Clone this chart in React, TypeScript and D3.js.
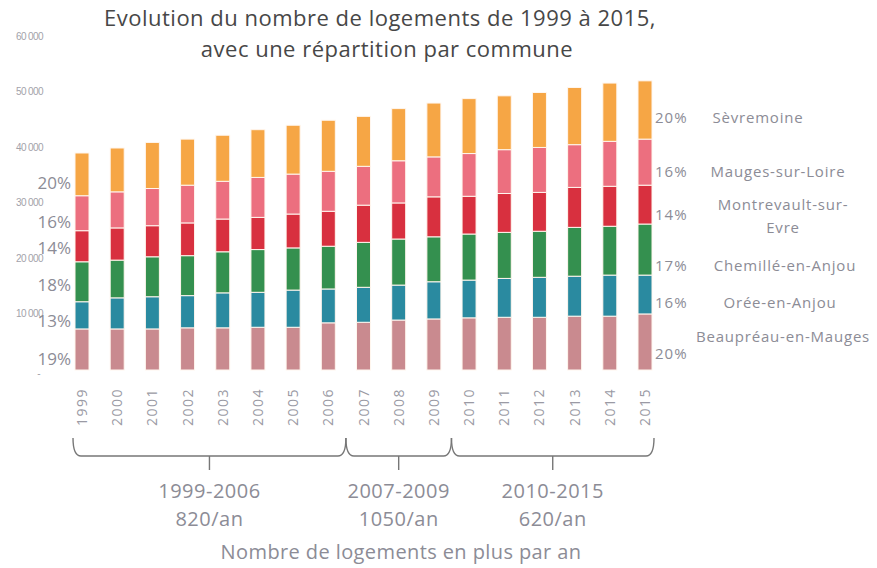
import React from 'react';
import * as d3 from 'd3';

const years = ['1999', '2000', '2001', '2002', '2003', '2004', '2005', '2006', '2007', '2008', '2009', '2010', '2011', '2012', '2013', '2014', '2015'];
const communes = ['Beaupréau-en-Mauges', 'Orée-en-Anjou', 'Chemillé-en-Anjou', 'Montrevault-sur-Evre', 'Mauges-sur-Loire', 'Sèvremoine'];

// logements par commune (bas -> haut de la pile)
const beaupreau = [7400, 7400, 7400, 7600, 7600, 7700, 7700, 8500, 8600, 9000, 9200, 9400, 9500, 9500, 9700, 9700, 10100];
const oree = [4900, 5600, 5800, 5800, 6300, 6300, 6700, 6100, 6300, 6300, 6700, 6800, 7000, 7200, 7200, 7400, 7000];
const chemille = [7200, 6800, 7200, 7200, 7400, 7700, 7600, 7700, 8100, 8300, 8100, 8300, 8300, 8300, 8800, 8800, 9200];
const montrevault = [5600, 5800, 5600, 5900, 5900, 5800, 6100, 6300, 6700, 6500, 7200, 6800, 7000, 7000, 7200, 7200, 7000];
const mauges = [6300, 6500, 6700, 6800, 6800, 7200, 7200, 7200, 7000, 7600, 7200, 7700, 7900, 8100, 7700, 8100, 8300];
const sevremoine = [7700, 7900, 8300, 8300, 8300, 8600, 8800, 9200, 9000, 9400, 9700, 9900, 9700, 9900, 10300, 10500, 10500];

const pct1999 = ['19%', '13%', '18%', '14%', '16%', '20%'];
const pct2015 = ['20%', '16%', '17%', '14%', '16%', '20%'];

const yTicks = [0, 10000, 20000, 30000, 40000, 50000, 60000];
const yTickLabels = ['-', '10 000', '20 000', '30 000', '40 000', '50 000', '60 000'];

const periods = [
  { from: '1999', to: '2006', label: '1999-2006', rate: '820/an' },
  { from: '2007', to: '2009', label: '2007-2009', rate: '1050/an' },
  { from: '2010', to: '2015', label: '2010-2015', rate: '620/an' },
];

const colors = ['#c98a8f', '#2a8aa0', '#34904f', '#d8303f', '#ec6f7f', '#f6a645'];
const labelGray = '#8c8c96';
const font = '"Open Sans", sans-serif';

const series = [beaupreau, oree, chemille, montrevault, mauges, sevremoine];

// petits décalages des étiquettes (px)
const leftNudge = [11, 7, 5, 3, 10, 10];
const rightNudge = [13, 9, 17, 11, 11, 9];
const nameX = [783, 780, 785, 783, 778, 758];

const App = () => {
  const W = 877, H = 568;
  const x = d3.scalePoint().domain(years).range([82, 645]);
  const y = d3.scaleLinear().domain([0, 60000]).range([370, 37]);
  const barW = 14;

  const rows = years.map((yr, i) => {
    const r: any = { year: yr };
    communes.forEach((c, k) => { r[c] = series[k][i]; });
    return r;
  });
  const stacked = d3.stack().keys(communes)(rows);

  const step = x.step();
  const braceY = 456, braceTop = 438;
  const edge = (yr: string, side: number) => {
    const i = years.indexOf(yr);
    if (side < 0) return i === 0 ? x(yr)! - 9 : x(yr)! - step / 2;
    return i === years.length - 1 ? x(yr)! + 9 : x(yr)! + step / 2;
  };

  const mid = (k: number, i: number) => (y(stacked[k][i][0]) + y(stacked[k][i][1])) / 2;
  const last = years.length - 1;

  return (
    <svg width={W} height={H} style={{ position: 'absolute', left: 0, top: 0, background: '#fff' }} fontFamily={font}>
      <text x={380} y={26} textAnchor="middle" fontSize={22} fontWeight={500} letterSpacing={0.5} fill="#474747">
        Evolution du nombre de logements de 1999 à 2015,
      </text>
      <text x={387} y={57} textAnchor="middle" fontSize={22} fontWeight={500} letterSpacing={0.5} fill="#474747">
        avec une répartition par commune
      </text>

      {yTicks.map((t, i) => (
        <text key={t} x={t === 0 ? 40 : 43} y={t === 0 ? y(t) + 4 : y(t)} textAnchor="end" dominantBaseline="middle" fontSize={10}
          fontFamily='"Liberation Sans", sans-serif' letterSpacing={-0.6} fill="#a2a2aa">
          {yTickLabels[i]}
        </text>
      ))}

      {stacked.map((s, k) => (
        <g key={s.key} fill={colors[k]}>
          {s.map((d, i) => (
            <rect key={years[i]} x={x(years[i])! - barW / 2} y={y(d[1])} width={barW}
              height={y(d[0]) - y(d[1])} stroke="#fff6ee" strokeWidth={1} />
          ))}
        </g>
      ))}

      {pct1999.map((p, k) => (
        <text key={'l' + k} x={71} y={mid(k, 0) + leftNudge[k]} textAnchor="end" dominantBaseline="middle"
          fontSize={17} fill={labelGray}>{p}</text>
      ))}

      {pct2015.map((p, k) => (
        <text key={'r' + k} x={655} y={mid(k, last) + rightNudge[k]} dominantBaseline="middle"
          fontSize={15} letterSpacing={1} fill={labelGray}>{p}</text>
      ))}

      {communes.map((c, k) => {
        const cy = mid(k, last) + rightNudge[k];
        if (k === 3) {
          return (
            <text key={c} x={nameX[k]} y={cy - 10} textAnchor="middle" dominantBaseline="middle" fontSize={15}
              letterSpacing={0.8} fill={labelGray}>
              <tspan x={nameX[k]}>Montrevault-sur-</tspan>
              <tspan x={nameX[k]} dy={23}>Evre</tspan>
            </text>
          );
        }
        return (
          <text key={c} x={nameX[k]} y={k === 0 ? cy - 17 : cy} textAnchor="middle" dominantBaseline="middle"
            fontSize={15} letterSpacing={0.8} fill={labelGray}>{c}</text>
        );
      })}

      {years.map(yr => (
        <text key={yr} transform={`translate(${x(yr)! + 5},388) rotate(-90)`} textAnchor="end"
          fontSize={14} letterSpacing={1.5} fill="#9a9aa4">{yr}</text>
      ))}

      {periods.map(p => {
        const x0 = edge(p.from, -1), x1 = edge(p.to, 1), xm = (x0 + x1) / 2;
        const d = `M${x0},${braceTop} Q${x0},${braceY} ${x0 + 8},${braceY} H${x1 - 8} Q${x1},${braceY} ${x1},${braceTop} M${xm},${braceY} V${braceY + 14}`;
        return (
          <g key={p.label}>
            <path d={d} fill="none" stroke="#777" strokeWidth={1.4} />
            <text x={xm} y={493} textAnchor="middle" dominantBaseline="middle" fontSize={20} letterSpacing={0.5} fill={labelGray}>{p.label}</text>
            <text x={xm} y={521} textAnchor="middle" dominantBaseline="middle" fontSize={20} letterSpacing={0.5} fill={labelGray}>{p.rate}</text>
          </g>
        );
      })}

      <text x={401} y={554} textAnchor="middle" dominantBaseline="middle" fontSize={20} letterSpacing={0.4} fill={labelGray}>
        Nombre de logements en plus par an
      </text>
    </svg>
  );
};

export default App;
